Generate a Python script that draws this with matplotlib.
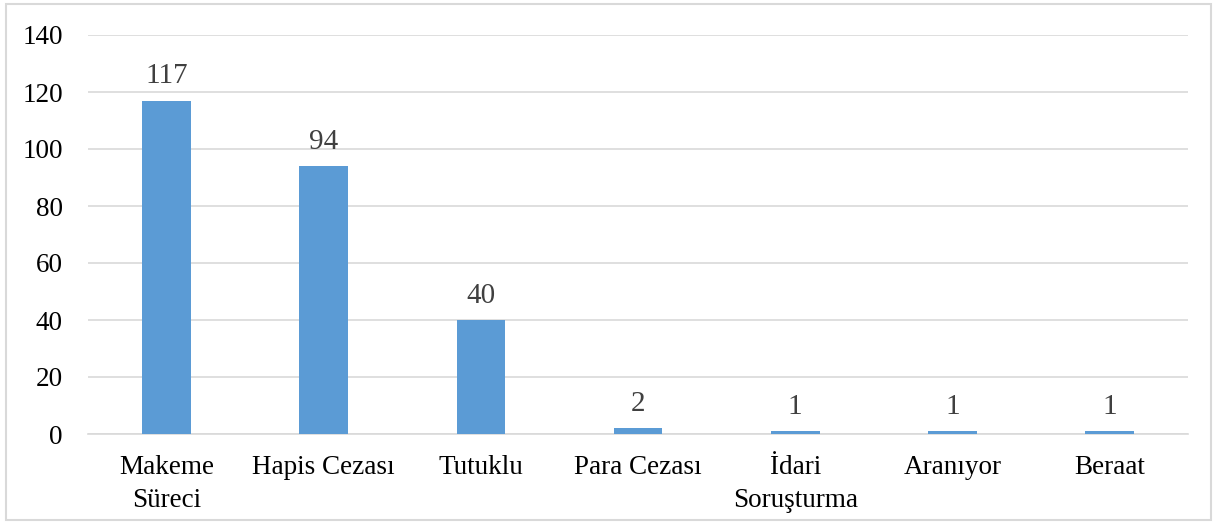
import matplotlib
matplotlib.use("Agg")
import matplotlib.pyplot as plt
from matplotlib.patches import Rectangle

categories = ["Makeme\nSüreci", "Hapis Cezası", "Tutuklu", "Para Cezası",
              "İdari\nSoruşturma", "Aranıyor", "Beraat"]
values = [117, 94, 40, 2, 1, 1, 1]
yticks = [0, 20, 40, 60, 80, 100, 120, 140]

plt.rcParams['font.family'] = ['Liberation Serif', 'DejaVu Serif']

fig = plt.figure(figsize=(12.17, 5.24), dpi=100)
ax = fig.add_axes([88/1217, 90/524, 1100/1217, 399/524])

x = list(range(len(categories)))
ax.bar(x, values, width=0.31, color='#5B9BD5', zorder=3)
ax.set_xlim(-0.5, len(categories) - 0.5)
ax.set_ylim(0, 140)
ax.set_yticks(yticks)
ax.set_xticks(x)
ax.set_xticklabels(categories, fontsize=19.5, linespacing=1.45)
ax.tick_params(axis='y', labelsize=19.5, length=0, pad=18)
ax.tick_params(axis='x', length=0, pad=15)
ax.grid(axis='y', color='#D9D9D9', linewidth=1.2, zorder=0)
for s in ['top', 'right', 'left']:
    ax.spines[s].set_visible(False)
ax.spines['bottom'].set_color('#D9D9D9')
ax.spines['bottom'].set_linewidth(1.2)

for xi, v in zip(x, values):
    ax.annotate(str(v), (xi, v), xytext=(0, 12.5), textcoords='offset points',
                ha='center', va='baseline', fontsize=21, color='#404040')

fig.patches.append(Rectangle((6/1217, 4/524), 1205/1217, 516/524,
                             transform=fig.transFigure, fill=False,
                             edgecolor='#D9D9D9', linewidth=1.5))

fig.savefig('out.png', dpi=100)
